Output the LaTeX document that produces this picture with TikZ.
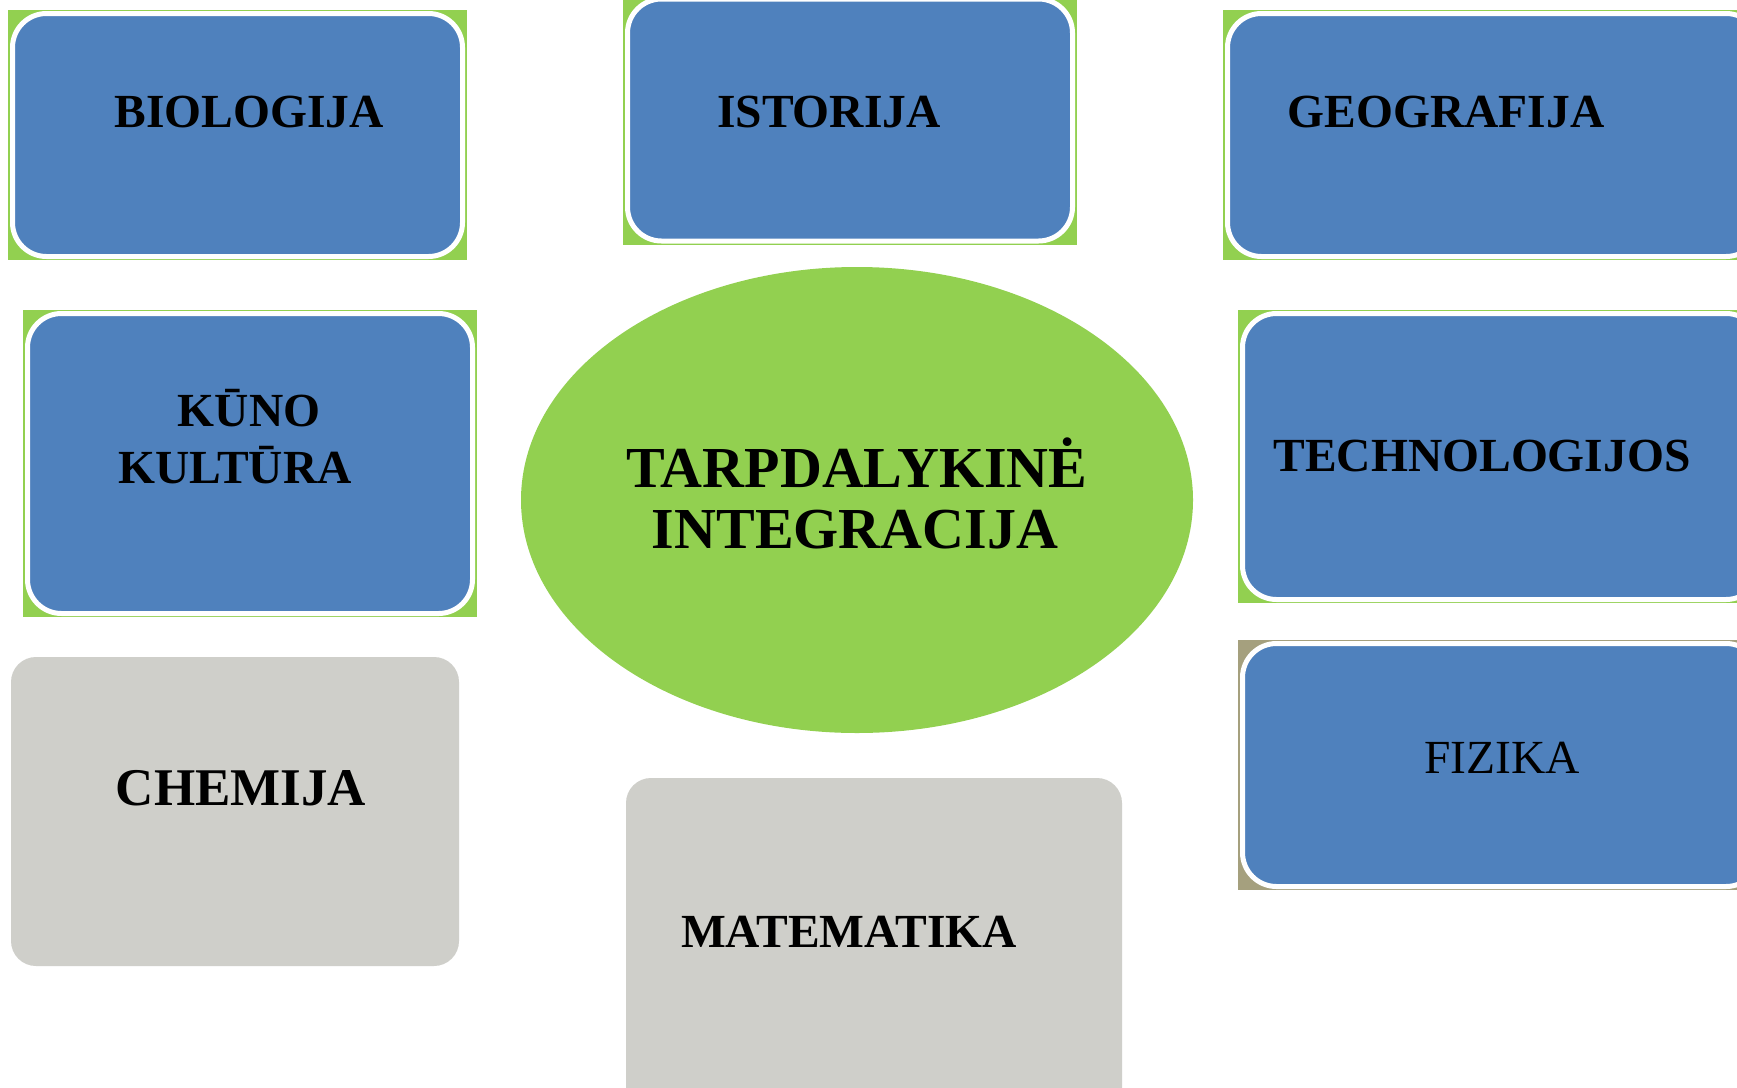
\documentclass[tikz,border=0pt]{standalone}
\usepackage{fontspec}
\setmainfont{Liberation Serif}
\definecolor{boxblue}{HTML}{4F81BD}
\definecolor{leafgreen}{HTML}{92D050}
\definecolor{softgray}{HTML}{CFCFCA}
\definecolor{tanbg}{HTML}{A5A07E}
\tikzset{
  bluebox/.style={draw=white, line width=5pt, fill=boxblue, rounded corners=34pt},
  graybox/.style={fill=softgray, rounded corners=25pt},
  lbl/.style={anchor=base, inner sep=0pt, font=\fontsize{47.5}{57}\selectfont\bfseries},
  lblreg/.style={anchor=base, inner sep=0pt, font=\fontsize{47.5}{57}\selectfont},
  biglbl/.style={anchor=base, inner sep=0pt, font=\fontsize{58}{60}\selectfont\bfseries},
}
\begin{document}
\begin{tikzpicture}[x=1pt,y=-1pt]
\useasboundingbox (0,0) rectangle (1737,1087);
\clip (0,0) rectangle (1737,1087);
\fill[white] (0,0) rectangle (1737,1087);

% backgrounds
\fill[leafgreen] (8,10) rectangle (467,260);
\fill[leafgreen] (623,0) rectangle (1077,245);
\fill[leafgreen] (1223,10) rectangle (1737,260);
\fill[leafgreen] (23,310) rectangle (477,617);
\fill[leafgreen] (1238,310) rectangle (1737,603);
\fill[tanbg] (1238,640) rectangle (1737,890);

% blue boxes
\draw[bluebox] (12.5,13.5) rectangle (462.5,256.5);
\draw[bluebox] (627.5,-1) rectangle (1072.5,241);
\draw[bluebox] (1227.5,13.5) rectangle (1760,256.5);
\draw[bluebox] (27.5,313.5) rectangle (472.5,613.5);
\draw[bluebox] (1242.5,313.5) rectangle (1760,599.5);
\draw[bluebox] (1242.5,643.5) rectangle (1760,886.5);

% gray boxes
\fill[graybox] (11,657) rectangle (459,966);
\fill[graybox] (626,778) rectangle (1122,1120);

% central ellipse
\fill[leafgreen] (857,500) ellipse [x radius=336, y radius=233];

% labels
\node[lbl] (bio) at (249,127) {BIOLOGIJA};
\node[lbl] (ist) at (829,127) {ISTORIJA};
\node[lbl] (geo) at (1446,127) {GEOGRAFIJA};
\node[lbl] (kun1) at (249,426) {KŪNO};
\node[lbl] (kun2) at (235,483) {KULTŪRA};
\node[lbl] (tech) at (1482,471) {TECHNOLOGIJOS};
\node[lbl, font=\fontsize{53}{60}\selectfont\bfseries] (chem) at (241,805) {CHEMIJA};
\node[lbl] (mat) at (849,947) {MATEMATIKA};
\node[lblreg] (fiz) at (1502,773) {FIZIKA};
\node[biglbl] (tarp1) at (857,487) {TARPDALYKINĖ};
\node[biglbl] (tarp2) at (855,548) {INTEGRACIJA};
\end{tikzpicture}
\end{document}
